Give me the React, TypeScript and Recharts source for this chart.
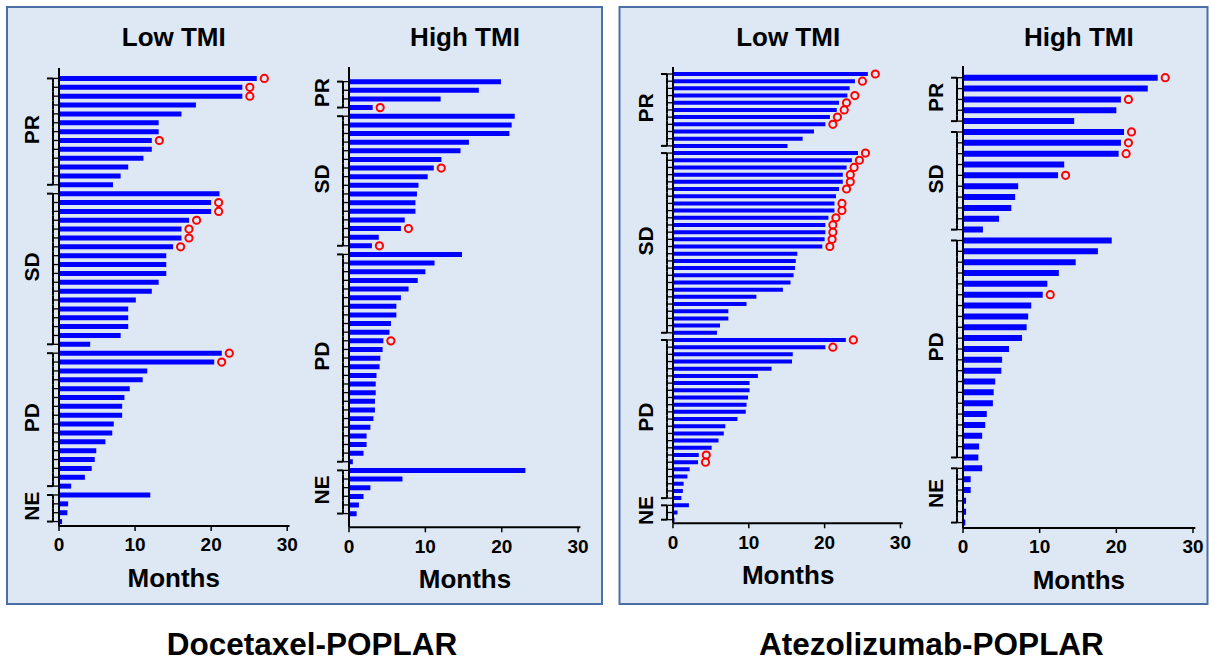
import React from "react";
import { BarChart, Bar, XAxis, YAxis, LabelList } from "recharts";

const FONT = "'Liberation Sans', Arial, Helvetica, sans-serif";

const responseTypes = ["PR", "SD", "PD", "NE"];
const monthTicks = [0, 10, 20, 30];

// Docetaxel-POPLAR, low TMI (months on treatment, 1 = response ongoing)
const doceLowMonths = [
  26.0, 24.1, 24.1, 18.0, 16.1, 13.1, 13.1, 12.2, 12.2, 11.1, 9.1, 8.1, 7.1,
  21.1, 20.0, 20.0, 17.1, 16.1, 16.1, 15.0, 14.1, 14.1, 14.1, 13.1, 12.2, 10.1, 9.1, 9.1, 9.1, 8.1, 4.1,
  21.4, 20.4, 11.6, 11.0, 9.3, 8.6, 8.3, 8.3, 7.2, 7.0, 6.1, 4.9, 4.7, 4.3, 3.4, 1.6,
  12.0, 1.2, 1.1, 0.4,
];
const doceLowOngoing = [
  1, 1, 1, 0, 0, 0, 0, 1, 0, 0, 0, 0, 0,
  0, 1, 1, 1, 1, 1, 1, 0, 0, 0, 0, 0, 0, 0, 0, 0, 0, 0,
  1, 1, 0, 0, 0, 0, 0, 0, 0, 0, 0, 0, 0, 0, 0, 0,
  0, 0, 0, 0,
];
const doceLowGroups = [13, 18, 16, 4];

// Docetaxel-POPLAR, high TMI
const doceHighMonths = [
  19.9, 17.0, 12.0, 3.1,
  21.7, 21.3, 21.0, 15.7, 14.6, 12.1, 11.1, 10.3, 9.1, 8.9, 8.7, 8.7, 7.3, 6.8, 3.9, 3.0,
  14.8, 11.2, 10.0, 9.0, 7.8, 6.8, 6.2, 6.2, 5.5, 5.3, 4.5, 4.4, 4.1, 4.0, 3.6, 3.5, 3.5, 3.4, 3.4, 3.2, 2.8, 2.3, 2.3, 1.9, 0.5,
  23.1, 7.0, 2.8, 1.9, 1.3, 1.0,
];
const doceHighOngoing = [
  0, 0, 0, 1,
  0, 0, 0, 0, 0, 0, 1, 0, 0, 0, 0, 0, 0, 1, 0, 1,
  0, 0, 0, 0, 0, 0, 0, 0, 0, 0, 1, 0, 0, 0, 0, 0, 0, 0, 0, 0, 0, 0, 0, 0, 0,
  0, 0, 0, 0, 0, 0,
];
const doceHighGroups = [4, 16, 25, 6];

// Atezolizumab-POPLAR, low TMI
const atezoLowMonths = [
  25.7, 24.0, 23.3, 23.0, 21.9, 21.6, 20.7, 20.1, 18.6, 17.1, 15.1,
  24.4, 23.6, 22.9, 22.4, 22.4, 21.9, 21.5, 21.3, 21.3, 20.5, 20.1, 20.1, 20.0, 19.7, 16.4, 16.2, 16.1, 15.9, 15.5, 14.5, 11.0, 9.7, 7.3, 7.3, 6.2, 5.8,
  22.8, 20.1, 15.8, 15.7, 13.0, 11.2, 10.1, 10.1, 9.9, 9.7, 9.6, 8.5, 6.9, 6.7, 6.0, 5.1, 3.4, 3.3, 2.2, 1.9, 1.4, 1.3, 1.1,
  2.1, 0.6, 0.2,
];
const atezoLowOngoing = [
  1, 1, 0, 1, 1, 1, 1, 1, 0, 0, 0,
  1, 1, 1, 1, 1, 1, 0, 1, 1, 1, 1, 1, 1, 1, 0, 0, 0, 0, 0, 0, 0, 0, 0, 0, 0, 0,
  1, 1, 0, 0, 0, 0, 0, 0, 0, 0, 0, 0, 0, 0, 0, 0, 1, 1, 0, 0, 0, 0, 0,
  0, 0, 0,
];
const atezoLowGroups = [11, 26, 23, 3];

// Atezolizumab-POPLAR, high TMI
const atezoHighMonths = [
  25.4, 24.1, 20.6, 20.0, 14.5,
  21.0, 20.6, 20.3, 13.2, 12.4, 7.2, 6.8, 6.3, 4.7, 2.6,
  19.4, 17.6, 14.7, 12.5, 11.0, 10.4, 8.9, 8.5, 8.3, 7.7, 6.0, 5.1, 5.0, 4.2, 4.0, 3.9, 3.1, 2.9, 2.5, 2.1, 2.0,
  2.5, 1.0, 1.0, 0.4, 0.4, 0.3,
];
const atezoHighOngoing = [
  1, 0, 1, 0, 0,
  1, 1, 1, 0, 1, 0, 0, 0, 0, 0,
  0, 0, 0, 0, 0, 1, 0, 0, 0, 0, 0, 0, 0, 0, 0, 0, 0, 0, 0, 0, 0,
  0, 0, 0, 0, 0, 0,
];
const atezoHighGroups = [5, 10, 21, 6];

const Y_W = 50;
const M_TOP = 6;
const M_RIGHT = 16;
const X_H = 32;

interface PanelProps {
  title: string;
  months: number[];
  ongoing: number[];
  groups: number[];
  plotLeft: number;
  plotRight: number;
  frameTop: number;
  frameBottom: number;
  padTop: number;
  padBottom: number;
}

const panels: PanelProps[] = [
  { title: "Low TMI", months: doceLowMonths, ongoing: doceLowOngoing, groups: doceLowGroups, plotLeft: 58.5, plotRight: 289, frameTop: 68, frameBottom: 526, padTop: 6, padBottom: 0 },
  { title: "High TMI", months: doceHighMonths, ongoing: doceHighOngoing, groups: doceHighGroups, plotLeft: 349.3, plotRight: 580.7, frameTop: 66.7, frameBottom: 527, padTop: 10.3, padBottom: 9.4 },
  { title: "Low TMI", months: atezoLowMonths, ongoing: atezoLowOngoing, groups: atezoLowGroups, plotLeft: 673.3, plotRight: 903, frameTop: 66.7, frameBottom: 523, padTop: 3.4, padBottom: 0 },
  { title: "High TMI", months: atezoHighMonths, ongoing: atezoHighOngoing, groups: atezoHighGroups, plotLeft: 962.7, plotRight: 1195, frameTop: 66, frameBottom: 528, padTop: 6.3, padBottom: 0 },
];

function renderOngoing(props: any) {
  const { x, y, width, height, value } = props;
  if (!value) return null;
  return (
    <circle
      cx={Number(x) + Number(width) + 7.5}
      cy={Number(y) + Number(height) / 2}
      r={3.6}
      fill="none"
      stroke="#ff0000"
      strokeWidth={2}
    />
  );
}

function SwimmerPanel(p: PanelProps) {
  const rows = p.months.map((m, i) => ({ id: "pt" + i, months: m, ongoing: p.ongoing[i] }));

  // which response group each row sits in
  const groupOf: { g: number; pos: number; n: number }[] = [];
  p.groups.forEach((n, g) => {
    for (let j = 0; j < n; j++) groupOf.push({ g, pos: j, n });
  });

  const band = (p.frameBottom - p.frameTop - p.padTop - p.padBottom) / rows.length;
  const width = p.plotRight - p.plotLeft + Y_W + M_RIGHT;
  const height = p.frameBottom - p.frameTop + M_TOP + X_H;

  const ladderTick = (props: any) => {
    const { y, index } = props;
    const info = groupOf[index];
    if (!info) return <g />;
    const ax = Y_W - 6;
    const half = band / 2;
    const top = info.pos === 0 ? y : y - half;
    const bottom = info.pos === info.n - 1 ? y : y + half;
    const labelY = y + ((info.n - 1) / 2) * band - 2;
    const lx = Y_W - 27;
    return (
      <g>
        <line x1={ax} x2={Y_W} y1={y} y2={y} stroke="#000" strokeWidth={1.3} />
        <line x1={ax} x2={ax} y1={top} y2={bottom} stroke="#000" strokeWidth={2} />
        {info.pos === 0 && <line x1={ax - 6} x2={ax} y1={y} y2={y} stroke="#000" strokeWidth={2} />}
        {info.pos === info.n - 1 && <line x1={ax - 6} x2={ax} y1={y} y2={y} stroke="#000" strokeWidth={2} />}
        {info.pos === 0 && (
          <text
            x={lx}
            y={labelY}
            transform={`rotate(-90 ${lx} ${labelY})`}
            textAnchor="middle"
            dominantBaseline="central"
            fontFamily={FONT}
            fontWeight={700}
            fontSize={21}
            fill="#000"
          >
            {responseTypes[info.g]}
          </text>
        )}
      </g>
    );
  };

  return (
    <div style={{ position: "absolute", left: p.plotLeft - Y_W, top: p.frameTop - M_TOP }}>
      <BarChart
        width={width}
        height={height}
        data={rows}
        layout="vertical"
        margin={{ top: M_TOP, right: M_RIGHT, bottom: 0, left: 0 }}
        barCategoryGap="22%"
      >
        <XAxis
          type="number"
          dataKey="months"
          domain={[0, 30.3]}
          ticks={monthTicks}
          allowDataOverflow
          height={X_H}
          axisLine={{ stroke: "#000", strokeWidth: 2 }}
          tickLine={{ stroke: "#000", strokeWidth: 1.5 }}
          tickSize={5}
          tickMargin={7}
          tick={{ fill: "#000", fontSize: 19, fontWeight: 700, fontFamily: FONT }}
        />
        <XAxis
          xAxisId="top"
          orientation="top"
          type="number"
          domain={[0, 30.3]}
          height={0}
          tick={false}
          tickLine={false}
          axisLine={{ stroke: "#000", strokeWidth: 2 }}
        />
        <YAxis
          type="category"
          dataKey="id"
          width={Y_W}
          interval={0}
          tickSize={0}
          tickMargin={0}
          tickLine={false}
          axisLine={{ stroke: "#000", strokeWidth: 2 }}
          padding={{ top: p.padTop, bottom: p.padBottom }}
          tick={ladderTick}
        />
        <YAxis
          yAxisId="right"
          orientation="right"
          type="number"
          domain={[0, 1]}
          width={0}
          tick={false}
          tickLine={false}
          axisLine={{ stroke: "#000", strokeWidth: 2 }}
        />
        <Bar dataKey="months" fill="#0000ff" isAnimationActive={false}>
          <LabelList dataKey="ongoing" content={renderOngoing} />
        </Bar>
      </BarChart>
    </div>
  );
}

export default function App() {
  return (
    <div style={{ position: "absolute", left: 0, top: 0, width: 1211, height: 663, background: "#fff" }}>
      <svg width={1211} height={663} style={{ position: "absolute", left: 0, top: 0 }}>
        <rect x={7} y={7} width={595} height={597} fill="#dde8f4" stroke="#4a6fa5" strokeWidth={2} />
        <rect x={619.5} y={7} width={588} height={597} fill="#dde8f4" stroke="#4a6fa5" strokeWidth={2} />
        {panels.map((p, i) => {
          const cx = (p.plotLeft + p.plotRight) / 2;
          return (
            <g key={i} fontFamily={FONT} fontWeight={700} fill="#000" textAnchor="middle">
              <text x={cx} y={46} fontSize={26}>{p.title}</text>
              <text x={cx} y={p.frameBottom + 61} fontSize={26}>Months</text>
            </g>
          );
        })}
        <text x={312} y={655} fontFamily={FONT} fontWeight={700} fontSize={31.5} textAnchor="middle" fill="#000">
          Docetaxel-POPLAR
        </text>
        <text x={931.5} y={655} fontFamily={FONT} fontWeight={700} fontSize={31.5} textAnchor="middle" fill="#000">
          Atezolizumab-POPLAR
        </text>
      </svg>
      {panels.map((p, i) => (
        <SwimmerPanel key={i} {...p} />
      ))}
    </div>
  );
}
